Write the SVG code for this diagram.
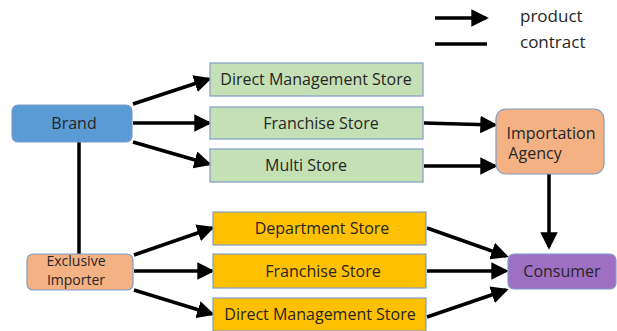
<svg xmlns="http://www.w3.org/2000/svg" width="617" height="331" viewBox="0 0 617 331">
<defs>
<marker id="ah" markerWidth="5" markerHeight="5" refX="4.2" refY="2.5" orient="auto" markerUnits="strokeWidth">
<path d="M0,0 L5,2.5 L0,5 z" fill="#000"/>
</marker>
<style>
text{font-family:"Open Sans","Noto Sans","DejaVu Sans",sans-serif;font-size:16px;fill:#262626;text-anchor:middle}
.s{font-size:14px}
.b{stroke:#7F9DC6;stroke-width:1.2}
.g{fill:#C5E0B4}
.y{fill:#FFC000}
.o{fill:#F4B183}
.c line{stroke:#000;stroke-width:3.5}
.c .p{marker-end:url(#ah)}
</style>
</defs>
<rect width="617" height="331" fill="#fff"/>
<g id="legend">
<g class="c"><line class="p" x1="435" y1="18" x2="486" y2="18"/><line x1="435" y1="44" x2="487" y2="44"/></g>
<text x="520" y="22" style="text-anchor:start;font-size:17px">product</text>
<text x="520" y="48" style="text-anchor:start;font-size:17px">contract</text>
</g>
<g id="connectors" class="c">
<line x1="79" y1="142" x2="79" y2="254"/>
<line class="p" x1="133" y1="104" x2="209" y2="79"/>
<line class="p" x1="133" y1="123" x2="209" y2="123"/>
<line class="p" x1="133" y1="142" x2="209" y2="164"/>
<line class="p" x1="424" y1="123" x2="495" y2="125"/>
<line class="p" x1="424" y1="166" x2="495" y2="166"/>
<line class="p" x1="549" y1="174" x2="549" y2="247"/>
<line class="p" x1="134" y1="255" x2="212" y2="228"/>
<line class="p" x1="134" y1="271" x2="212" y2="271"/>
<line class="p" x1="134" y1="290" x2="212" y2="314"/>
<line class="p" x1="427" y1="228" x2="506" y2="256"/>
<line class="p" x1="427" y1="271" x2="506" y2="271"/>
<line class="p" x1="427" y1="317" x2="506" y2="290"/>
</g>
<g id="brand"><rect class="b" x="12" y="105" width="120" height="37" rx="6" fill="#5B9BD5"/><text x="74" y="129">Brand</text></g>
<g id="exclusive-importer"><rect class="b o" x="27" y="254" width="106" height="36" rx="6"/><text class="s" x="76" y="266">Exclusive</text><text class="s" x="76" y="285">Importer</text></g>
<g id="direct-management-store-1"><rect class="b g" x="210" y="63" width="213" height="33"/><text x="316" y="85">Direct Management Store</text></g>
<g id="franchise-store-1"><rect class="b g" x="210" y="107" width="213" height="32"/><text x="321" y="129">Franchise Store</text></g>
<g id="multi-store"><rect class="b g" x="210" y="149" width="213" height="33"/><text x="306" y="171">Multi Store</text></g>
<g id="department-store"><rect class="b y" x="213" y="212" width="213" height="33"/><text x="322" y="234">Department Store</text></g>
<g id="franchise-store-2"><rect class="b y" x="213" y="254" width="213" height="34"/><text x="323" y="277">Franchise Store</text></g>
<g id="direct-management-store-2"><rect class="b y" x="213" y="298" width="213" height="33"/><text x="320" y="320">Direct Management Store</text></g>
<g id="importation-agency"><rect class="b o" x="496" y="109" width="108" height="65" rx="10"/><text x="551" y="139">Importation</text><text x="535" y="159">Agency</text></g>
<g id="consumer"><rect class="b" x="508" y="254" width="108" height="35" rx="6" fill="#9E6FC2"/><text x="562" y="277">Consumer</text></g>
</svg>
